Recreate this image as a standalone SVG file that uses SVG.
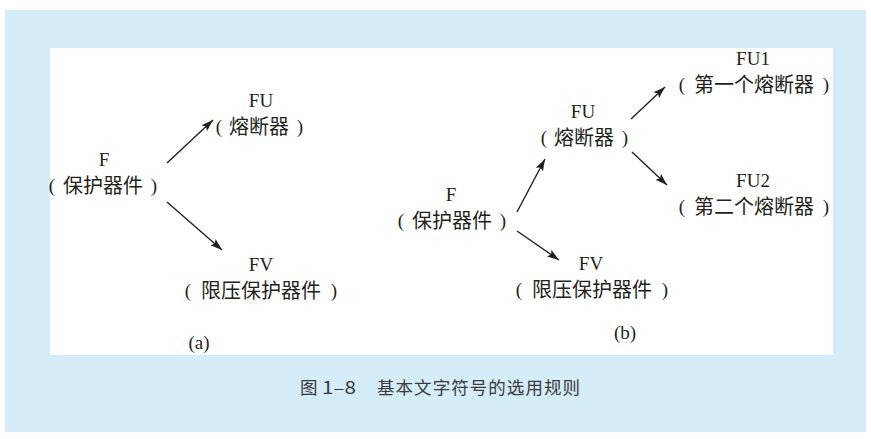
<svg xmlns="http://www.w3.org/2000/svg" width="871" height="439" viewBox="0 0 871 439">
<defs>
<style>
.lbl{font-family:"Liberation Serif","Noto Serif",serif;font-size:19px;fill:#231f20;text-anchor:middle}
.cjk{font-family:"Noto Sans CJK SC","Noto Sans",sans-serif;font-size:20px;fill:#231f20;text-anchor:middle}
.cap{font-family:"Noto Sans CJK SC","Noto Sans",sans-serif;font-size:17.5px;fill:#3a3a3a}
.con line{stroke:#231f20;stroke-width:1.4;marker-end:url(#ah)}
</style>
<marker id="ah" viewBox="0 0 12 8" refX="12" refY="4" markerWidth="12" markerHeight="8" markerUnits="userSpaceOnUse" orient="auto">
<path d="M0,0 L12,4 L0,8 L2.5,4 Z" fill="#231f20"/>
</marker>
</defs>
<rect x="0" y="0" width="871" height="439" fill="#ffffff"/>
<rect x="5" y="10" width="861" height="422" fill="#d5ecf9"/>
<rect x="50" y="48" width="783" height="307" fill="#ffffff"/>

<g id="a-F"><text class="lbl" x="104" y="166">F</text><text class="lbl"><tspan x="52" y="192">(</tspan><tspan class="cjk" x="103" y="193">保护器件</tspan><tspan x="154" y="192">)</tspan></text></g>
<g id="a-FU"><text class="lbl" x="261" y="107">FU</text><text class="lbl"><tspan x="219" y="133">(</tspan><tspan class="cjk" x="259" y="134">熔断器</tspan><tspan x="300" y="133">)</tspan></text></g>
<g id="a-FV"><text class="lbl" x="261" y="271">FV</text><text class="lbl"><tspan x="188" y="297">(</tspan><tspan class="cjk" x="261" y="298">限压保护器件</tspan><tspan x="334" y="297">)</tspan></text></g>
<text class="lbl" x="199" y="349" font-size="18">(a)</text>

<g id="b-F"><text class="lbl" x="451" y="201">F</text><text class="lbl"><tspan x="401" y="227">(</tspan><tspan class="cjk" x="452" y="228">保护器件</tspan><tspan x="503" y="227">)</tspan></text></g>
<g id="b-FU"><text class="lbl" x="583" y="118">FU</text><text class="lbl"><tspan x="544" y="144">(</tspan><tspan class="cjk" x="584" y="145">熔断器</tspan><tspan x="625" y="144">)</tspan></text></g>
<g id="b-FU1"><text class="lbl" x="753" y="65">FU1</text><text class="lbl"><tspan x="682" y="91">(</tspan><tspan class="cjk" x="754" y="92">第一个熔断器</tspan><tspan x="826" y="91">)</tspan></text></g>
<g id="b-FU2"><text class="lbl" x="753" y="187">FU2</text><text class="lbl"><tspan x="682" y="213">(</tspan><tspan class="cjk" x="754" y="214">第二个熔断器</tspan><tspan x="826" y="213">)</tspan></text></g>
<g id="b-FV"><text class="lbl" x="591" y="270">FV</text><text class="lbl"><tspan x="519" y="296">(</tspan><tspan class="cjk" x="592" y="297">限压保护器件</tspan><tspan x="665" y="296">)</tspan></text></g>
<text class="lbl" x="625" y="339" font-size="18">(b)</text>

<g id="connectors" class="con">
<line x1="167" y1="163" x2="213" y2="120"/>
<line x1="167" y1="202" x2="222" y2="250"/>
<line x1="517" y1="212" x2="545" y2="159"/>
<line x1="517" y1="231" x2="559" y2="260"/>
<line x1="631" y1="119" x2="665" y2="87"/>
<line x1="632" y1="152" x2="667" y2="185"/>
</g>

<g id="caption"><text class="cap" x="300" y="394">图</text><text class="cap" x="322" y="394" textLength="34" lengthAdjust="spacingAndGlyphs">1–8</text><text class="cap" x="377" y="394" textLength="203" lengthAdjust="spacing">基本文字符号的选用规则</text></g>
</svg>
